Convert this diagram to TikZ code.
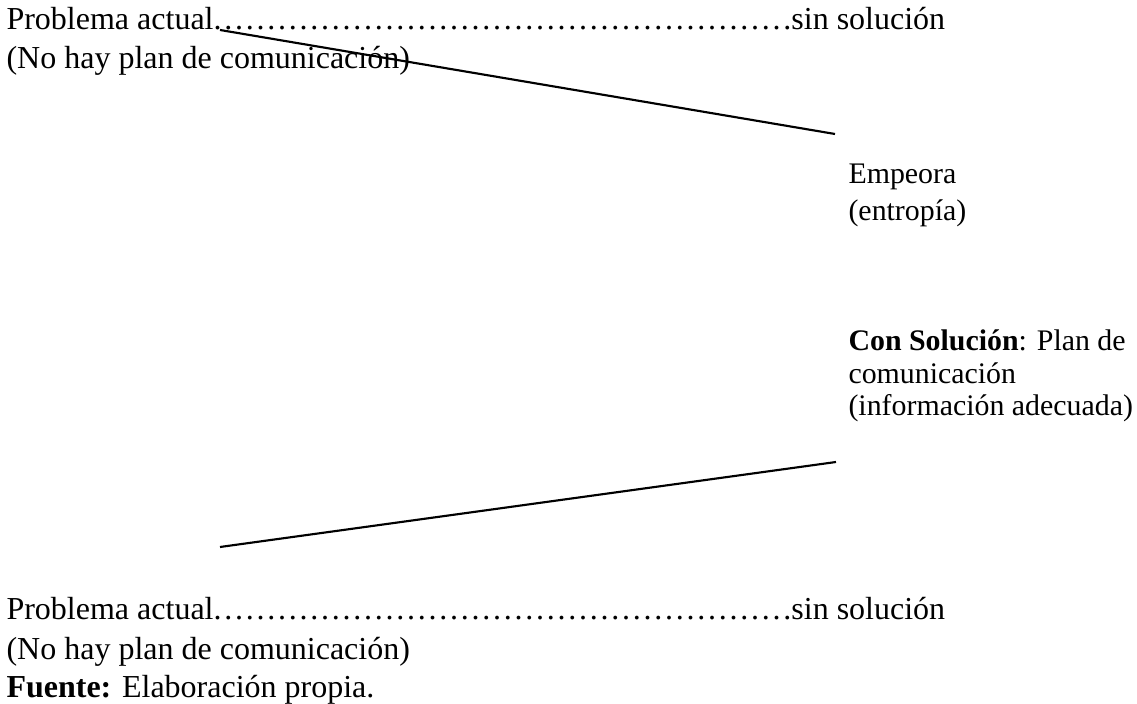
\documentclass[tikz,border=0pt]{standalone}
\usepackage{fontspec}
\setmainfont{Liberation Serif}

\newcommand{\puntos}{.\xleaders\hbox to 4pt{\hss.}\hfill}

\begin{document}
\begin{tikzpicture}[x=0.375pt,y=-0.375pt,
  linea/.style={anchor=base west,inner sep=0pt,font=\fontsize{12}{14}\selectfont},
  nota/.style={anchor=base west,inner sep=0pt,align=left},
  trazo/.style={line width=0.8pt}]
\useasboundingbox (0,0) rectangle (1137,704);

% sin plan de comunicacion
\node[linea] (pa1) at (6,30) {\hbox to 352pt{Problema actual\puntos sin solución}};
\node[linea] (np1) at (6,69) {(No hay plan de comunicación)};
\coordinate (ini1) at (220,30);
\coordinate (fin1) at (835,134);
\draw[trazo] (ini1) -- (fin1);
\node[nota,font=\fontsize{11.2}{14.2}\selectfont] (emp) at (848,221) {Empeora\\(entropía)};

% con plan de comunicacion
\node[nota,font=\fontsize{11.2}{12.2}\selectfont] (sol) at (848,416)
  {\textbf{Con Solución}: Plan de\\comunicación\\(información adecuada)};
\coordinate (fin2) at (836,462);
\coordinate (ini2) at (220,547);
\draw[trazo] (ini2) -- (fin2);
\node[linea] (pa2) at (6,620) {\hbox to 352pt{Problema actual\puntos sin solución}};
\node[linea] (np2) at (6,659) {(No hay plan de comunicación)};
\node[linea] (fte) at (6,697) {\textbf{Fuente:} Elaboración propia.};
\end{tikzpicture}
\end{document}
